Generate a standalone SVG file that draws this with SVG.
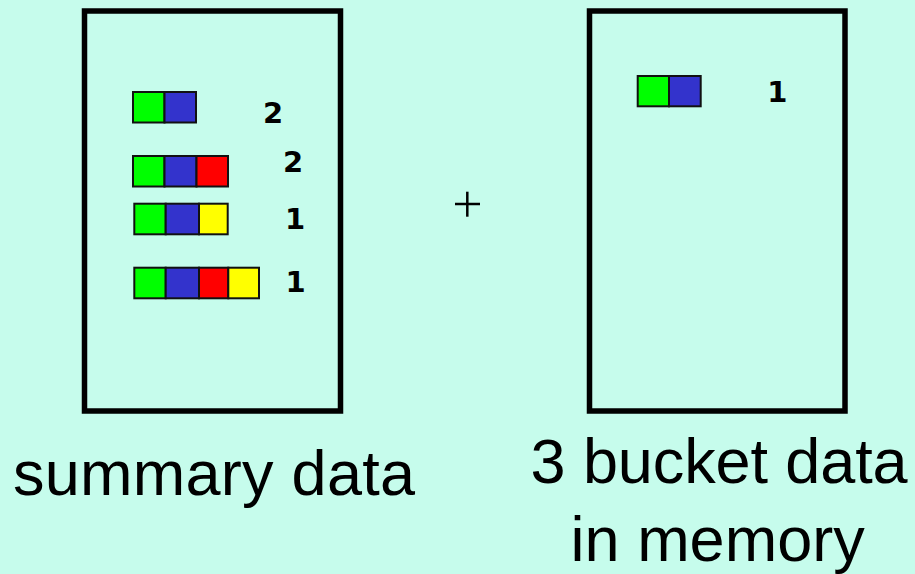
<svg xmlns="http://www.w3.org/2000/svg" width="915" height="574" viewBox="0 0 915 574">
<style>
.box{fill:none;stroke:#000;stroke-width:5.5}
.sq{stroke:#111;stroke-width:2}
.g{fill:#00FF00}.b{fill:#3333CC}.r{fill:#FF0000}.y{fill:#FFFF00}
.num{font-family:"DejaVu Sans",sans-serif;font-weight:bold;font-size:29px;fill:#000;text-anchor:middle}
.lbl{font-family:"Liberation Sans",Arial,sans-serif;font-size:63px;fill:#000}
</style>
<rect width="915" height="574" fill="#C6FCEC"/>
<g id="summary-box">
<rect class="box" x="84.5" y="11" width="256" height="400"/>
<g id="row1">
<rect class="sq g" x="133" y="92" width="31.5" height="30.5"/>
<rect class="sq b" x="164.5" y="92" width="31.5" height="30.5"/>
<text class="num" x="273" y="123.3">2</text>
</g>
<g id="row2">
<rect class="sq g" x="133" y="156" width="31.5" height="30.5"/>
<rect class="sq b" x="164.5" y="156" width="32" height="30.5"/>
<rect class="sq r" x="196.5" y="156" width="31.5" height="30.5"/>
<text class="num" x="293" y="171.7">2</text>
</g>
<g id="row3">
<rect class="sq g" x="134.3" y="203.7" width="31.4" height="30.6"/>
<rect class="sq b" x="165.7" y="203.7" width="33.3" height="30.6"/>
<rect class="sq y" x="199" y="203.7" width="28.7" height="30.6"/>
<text class="num" x="295.2" y="229">1</text>
</g>
<g id="row4">
<rect class="sq g" x="134.3" y="267.7" width="31.4" height="30.6"/>
<rect class="sq b" x="165.7" y="267.7" width="33.3" height="30.6"/>
<rect class="sq r" x="199" y="267.7" width="29.3" height="30.6"/>
<rect class="sq y" x="228.3" y="267.7" width="30.7" height="30.6"/>
<text class="num" x="295.6" y="292.3">1</text>
</g>
</g>
<g id="plus">
<line x1="455" y1="204" x2="480" y2="204" stroke="#000" stroke-width="2.5"/>
<line x1="467.3" y1="191.7" x2="467.3" y2="216.7" stroke="#000" stroke-width="2.5"/>
</g>
<g id="bucket-box">
<rect class="box" x="589.5" y="11" width="255.5" height="400"/>
<rect class="sq g" x="637.7" y="76" width="31.3" height="30.3"/>
<rect class="sq b" x="669" y="76" width="31.7" height="30.3"/>
<text class="num" x="777.3" y="101.7">1</text>
</g>
<g id="labels">
<text class="lbl" x="13" y="495" textLength="402">summary data</text>
<text class="lbl" x="530.6" y="483.3" textLength="377">3 bucket data</text>
<text class="lbl" x="570.6" y="560.5">in memory</text>
</g>
<g id="connectors"/>
</svg>
